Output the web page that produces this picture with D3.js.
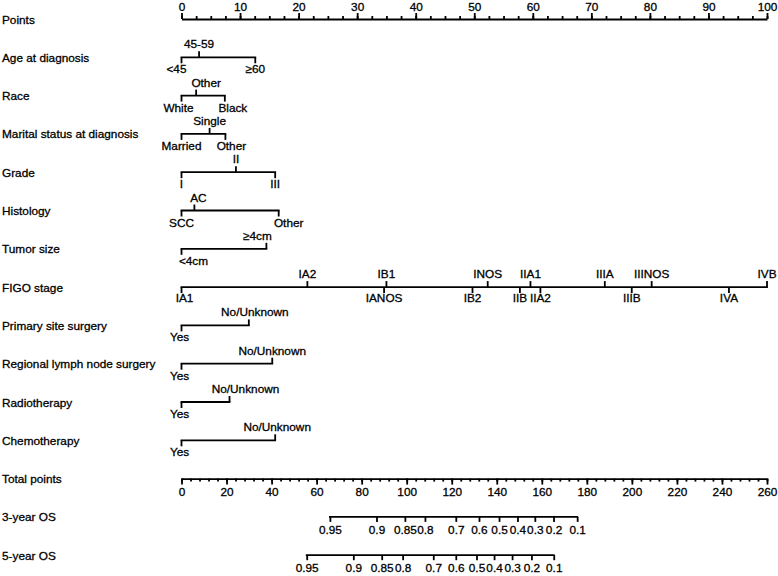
<!DOCTYPE html>
<html><head><meta charset="utf-8">
<script src="https://cdn.jsdelivr.net/npm/d3@7"></script>
<style>
body{margin:0;background:#fff}
text{font-family:"Liberation Sans",Arial,sans-serif;font-size:11.8px;fill:#000;stroke:#000;stroke-width:0.3px}
</style>
</head><body><svg id="c" width="778" height="576"></svg>
<script>
// ---------- data ----------
const rowNames = ["Points","Age at diagnosis","Race","Marital status at diagnosis","Grade","Histology","Tumor size","FIGO stage","Primary site surgery","Regional lymph node surgery","Radiotherapy","Chemotherapy","Total points","3-year OS","5-year OS"];
const pointTicks = d3.range(0, 101, 10);
const pointMinorTicks = d3.range(0, 100.1, 2.5);
const ageLevels = ["<45","45-59","≥60"];
const agePoints = [0, 3.0, 12.6];
const raceLevels = ["White","Other","Black"];
const racePoints = [0, 2.5, 7.4];
const maritalLevels = ["Married","Single","Other"];
const maritalPoints = [0, 4.8, 7.5];
const gradeLevels = ["I","II","III"];
const gradePoints = [0, 9.3, 16.0];
const histologyLevels = ["SCC","AC","Other"];
const histologyPoints = [0, 2.2, 16.6];
const tumorLevels = ["<4cm","≥4cm"];
const tumorPoints = [0, 14.5];
const figoLevels = ["IA1","IA2","IANOS","IB1","IB2","INOS","IIB","IIA1","IIA2","IIIA","IIIB","IIINOS","IVA","IVB"];
const figoPoints = [0, 21.5, 34.6, 35.0, 49.7, 52.3, 57.8, 59.6, 61.3, 72.3, 76.9, 80.3, 93.5, 100];
const yesNoLevels = ["Yes","No/Unknown"];
const primaryPoints = [0, 11.5];
const regionalPoints = [0, 15.5];
const radioPoints = [0, 8.2];
const chemoPoints = [0, 16.0];
const totalTicks = d3.range(0, 261, 20);
const totalMinorTicks = d3.range(0, 261, 4);
const os3Labels = ["0.95","0.9","0.85","0.8","0.7","0.6","0.5","0.4","0.3","0.2","0.1"];
const os3Points = [65.9, 86.6, 99.2, 108.1, 121.8, 132.1, 141.0, 149.2, 156.9, 165.2, 175.7];
const os5Labels = ["0.95","0.9","0.85","0.8","0.7","0.6","0.5","0.4","0.3","0.2","0.1"];
const os5Points = [55.6, 76.3, 88.9, 98.2, 111.8, 121.8, 131.0, 138.8, 146.8, 155.4, 165.3];

// ---------- layout (label nudges in px, as in the reference) ----------
const nudge = {
  "1:<45": -5, "2:White": -3, "2:Other": 10, "2:Black": 8, "3:Other": 6,
  "5:AC": 4, "5:Other": 10, "6:<4cm": 12, "6:≥4cm": -9, "7:IA1": 3,
  "8:Yes": -2, "9:Yes": -2, "10:Yes": -2, "11:Yes": -2,
  "8:No/Unknown": 6, "10:No/Unknown": 16, "11:No/Unknown": 2
};

const svg = d3.select("#c");
const X0 = 181.5, X1 = 767;
const xP = d3.scaleLinear().domain([0, 100]).range([X0, X1]);
const xT = d3.scaleLinear().domain([0, 260]).range([X0, X1]);
const rowY = i => 19 + i * 38.3;
const SW = 1.8;

// row labels
svg.append("g").selectAll("text").data(rowNames).join("text")
  .attr("x", 2).attr("y", (d, i) => rowY(i) + 4.5).text(d => d);

function styleAxis(g) {
  g.attr("font-family", null).attr("font-size", null);
  g.selectAll("path,line").attr("stroke", "#000").attr("stroke-width", SW);
  g.selectAll("text").attr("fill", "#000");
}

// Points axis
const gp = svg.append("g").attr("transform", `translate(0,${rowY(0)})`);
gp.append("g").call(d3.axisTop(xP).tickValues(pointMinorTicks).tickSize(3).tickSizeOuter(0).tickFormat(""))
  .call(g => g.select(".domain").remove()).call(styleAxis);
gp.append("g").call(d3.axisTop(xP).tickValues(pointTicks).tickSize(6).tickSizeOuter(0).tickPadding(2.5))
  .call(styleAxis);

// categorical rows
function catRow(i, levels, pts, belowOff) {
  const g = svg.append("g").attr("transform", `translate(0,${rowY(i)})`);
  const items = levels.map((l, k) => ({l, p: pts[k]})).sort((a, b) => a.p - b.p);
  items.forEach((d, k) => d.below = k % 2 === 0);
  g.append("line").attr("x1", xP(d3.min(pts)) - SW / 2).attr("x2", xP(d3.max(pts)) + SW / 2)
    .attr("y1", 0).attr("y2", 0).attr("stroke", "#000").attr("stroke-width", SW);
  g.selectAll("line.t").data(items).join("line").attr("class", "t")
    .attr("x1", d => xP(d.p)).attr("x2", d => xP(d.p))
    .attr("y1", 0).attr("y2", d => d.below ? 6 : -6)
    .attr("stroke", "#000").attr("stroke-width", SW);
  g.selectAll("text").data(items).join("text")
    .attr("x", d => xP(d.p) + (nudge[i + ":" + d.l] || 0))
    .attr("y", d => d.below ? belowOff : -9)
    .attr("text-anchor", "middle").text(d => d.l);
}
catRow(1, ageLevels, agePoints, 16);
catRow(2, raceLevels, racePoints, 16);
catRow(3, maritalLevels, maritalPoints, 16);
catRow(4, gradeLevels, gradePoints, 16);
catRow(5, histologyLevels, histologyPoints, 16);
catRow(6, tumorLevels, tumorPoints, 16);
catRow(7, figoLevels, figoPoints, 14.5);
catRow(8, yesNoLevels, primaryPoints, 16);
catRow(9, yesNoLevels, regionalPoints, 16);
catRow(10, yesNoLevels, radioPoints, 16);
catRow(11, yesNoLevels, chemoPoints, 16);

// Total points axis
const gt = svg.append("g").attr("transform", `translate(0,${rowY(12)})`);
gt.append("g").call(d3.axisBottom(xT).tickValues(totalMinorTicks).tickSize(3).tickSizeOuter(0).tickFormat(""))
  .call(g => g.select(".domain").remove()).call(styleAxis);
gt.append("g").call(d3.axisBottom(xT).tickValues(totalTicks).tickSize(6).tickSizeOuter(0).tickPadding(3.5))
  .call(styleAxis);

// OS axes
function osRow(i, labels, pts) {
  const g = svg.append("g").attr("transform", `translate(0,${rowY(i)})`);
  g.append("g").call(d3.axisBottom(xT).tickValues(pts).tickSize(5).tickPadding(3.5)
      .tickFormat((d, k) => labels[k]))
    .call(a => a.select(".domain").remove()).call(styleAxis);
  g.append("line").attr("x1", xT(d3.min(pts)) - SW / 2).attr("x2", xT(d3.max(pts)) + SW / 2)
    .attr("y1", 0).attr("y2", 0).attr("stroke", "#000").attr("stroke-width", SW);
}
osRow(13, os3Labels, os3Points);
osRow(14, os5Labels, os5Points);
</script></body></html>
